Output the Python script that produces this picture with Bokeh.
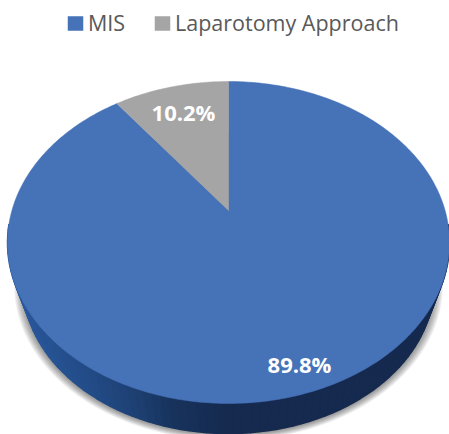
import numpy as np
from bokeh.plotting import figure
from bokeh.embed import file_html
from bokeh.resources import INLINE
from bokeh.core.properties import value

categories = ["MIS", "Laparotomy Approach"]
shares = [89.8, 10.2]
share_labels = ["89.8%", "10.2%"]
colors = ["#4672B8", "#A5A5A5"]

W, H = 449, 434
AX, AY = 228.0, 210.0      # apex of the pie on screen
TOP, BOTTOM = 129.0, 193.0 # apex to far and near rim
HALF_W = 221.0
k = (BOTTOM - TOP) / (BOTTOM + TOP)
h = TOP * (1 + k)
a = HALF_W * np.sqrt(1 - k * k)
S, D = 0.93, 43.5          # lower rim of the slab


def rim(theta, grow=0.0):
    w = 1 + k * np.cos(theta)
    return a * (1 + grow) * np.sin(theta) / w, h * (1 + grow) * np.cos(theta) / w


p = figure(width=W, height=H, x_range=(0, W), y_range=(H, 0), output_backend="svg",
           toolbar_location=None, min_border=0, outline_line_color=None,
           background_fill_color="white", border_fill_color="white")
p.axis.visible = False
p.grid.visible = False
p.styles = {"position": "absolute", "left": "0px", "top": "0px"}

# soft shadow under the slab
full = np.linspace(0, 2 * np.pi, 361)
for i in range(9, 0, -1):
    dx, dy = rim(full)
    gx = AX + dx * S * (1 + i * 0.0048)
    gy = AY - dy * S * (1 + i * 0.0038) + D + 1
    p.patch(gx, gy, fill_color="#000000", fill_alpha=0.05, line_color=None)

# side of the slab, darkening towards the front
stops_x = [20, 80, 130, 170, 230, 449]
stops_r = [42, 36, 31, 24, 21, 21]
stops_g = [88, 78, 66, 52, 42, 42]
stops_b = [155, 138, 118, 94, 78, 78]
edges = np.radians(np.linspace(95, 265, 86))
for t0, t1 in zip(edges[:-1], edges[1:]):
    x0, y0 = rim(np.array([t0, t1]))
    xs = np.r_[AX + x0, AX + x0[::-1] * S]
    ys = np.r_[AY - y0, AY - y0[::-1] * S + D]
    mx = xs.mean()
    col = "#%02x%02x%02x" % (int(np.interp(mx, stops_x, stops_r)),
                             int(np.interp(mx, stops_x, stops_g)),
                             int(np.interp(mx, stops_x, stops_b)))
    p.patch(xs, ys, fill_color=col, line_color=col, line_width=1.5)

# top face, one slice per share, clockwise from twelve o'clock
fractions = np.cumsum([0] + shares) / sum(shares)
for c, f0, f1 in zip(colors, fractions[:-1], fractions[1:]):
    t = 2 * np.pi * np.linspace(f0, f1, int(max(8, 400 * (f1 - f0))))
    dx, dy = rim(t)
    p.patch(np.r_[AX, AX + dx], np.r_[AY, AY - dy], fill_color=c, line_color=c, line_width=0.5)

# value labels
p.text([299, 183], [363, 111.5], text=share_labels, text_color="white",
       text_font=value("Open Sans"), text_font_style="bold", text_font_size="22px",
       text_align="center", text_baseline="middle")

# legend
p.rect([75, 162], [23, 23], width=15.5, height=14.5, fill_color=colors, line_color=None)
p.text([87.5, 174.5], [21.5, 21.5], text=categories, text_color="#595959",
       text_font=value("Open Sans"), text_font_size="21.5px",
       text_align="left", text_baseline="middle")

open("out.html", "w").write(file_html(p, INLINE))
